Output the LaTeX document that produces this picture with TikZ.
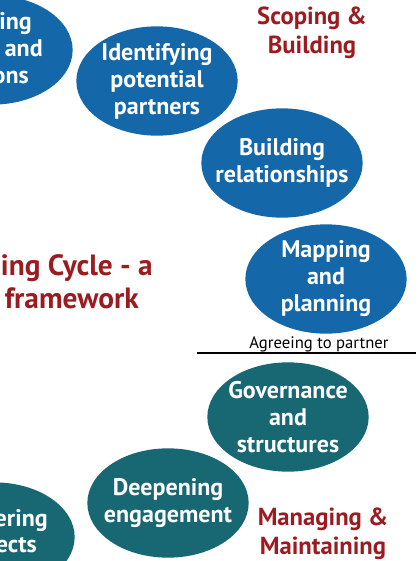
\documentclass[tikz,border=0pt]{standalone}
\usepackage{fontspec}
\setsansfont{PT Sans}
\usetikzlibrary{shapes.geometric}
\definecolor{cycB}{RGB}{20,104,170}
\definecolor{cycT}{RGB}{24,104,116}
\definecolor{cycR}{RGB}{155,28,32}

\begin{document}
\begin{tikzpicture}[x=0.75pt, y=-0.75pt,
  stage/.style={ellipse, inner xsep=-8pt, inner ysep=-6pt, minimum width=121pt, minimum height=82pt,
    text=white, align=center, font=\sffamily\bfseries\fontsize{18}{20.25}\selectfont},
  cut/.style={text=white, inner sep=0pt, font=\sffamily\bfseries\fontsize{18}{20.25}\selectfont},
  phase/.style={text=cycR, align=center, font=\sffamily\bfseries\fontsize{18.5}{21.5}\selectfont},
  title/.style={text=cycR, inner sep=0pt, font=\sffamily\bfseries\fontsize{22}{24}\selectfont}]
\useasboundingbox (0,0) rectangle (420,561);
\clip (0,0) rectangle (420,561);
% scoping & building (blue)
\node[stage, fill=cycB] (scope) at (-8,50) {};
\node[cut, anchor=base east] (scopeA) at (32,29) {ing};
\node[cut, anchor=base east] (scopeB) at (43,56) {and};
\node[cut, anchor=base east] (scopeC) at (29,83) {ons};
\node[stage, fill=cycB] (ident) at (157,81) {Identifying\\potential\\partners};
\node[stage, fill=cycB] (build) at (282,163) {Building\\relationships};
\node[stage, fill=cycB] (mapping) at (326,279) {Mapping\\and\\planning};
\node[phase] (scoping) at (312,33) {Scoping \&\\Building};
% heading
\node[title, anchor=base east] (headA) at (153,275) {ing Cycle - a};
\node[title, anchor=base east] (headB) at (139,308) {framework};
% agreeing to partner
\coordinate (lineL) at (197,353);
\coordinate (lineR) at (416,353);
\draw[line width=0.8pt] (lineL) -- (lineR);
\node[font=\sffamily\fontsize{12.5}{14}\selectfont, anchor=base] (agree) at (319,348) {Agreeing to partner};
% managing & maintaining (teal)
\node[stage, fill=cycT] (gov) at (288,417) {Governance\\and\\structures};
\node[stage, fill=cycT] (deep) at (168,503) {Deepening\\engagement};
\node[stage, fill=cycT] (deliver) at (-6,537) {};
\node[cut, anchor=base east] (deliverA) at (48,526) {ering};
\node[cut, anchor=base east] (deliverB) at (37,552) {ects};
\node[phase] (managing) at (323,534) {Managing \&\\Maintaining};
\end{tikzpicture}
\end{document}
